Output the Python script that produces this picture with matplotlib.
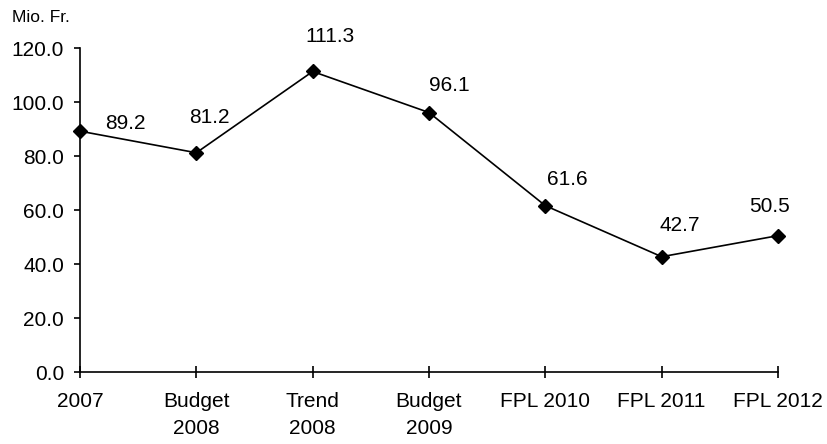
import matplotlib.pyplot as plt

# Series values (Mio. Fr.)
categories = ["2007", "Budget\n2008", "Trend\n2008", "Budget\n2009",
              "FPL 2010", "FPL 2011", "FPL 2012"]
values = [89.2, 81.2, 111.3, 96.1, 61.6, 42.7, 50.5]
# where each value label sits relative to its point (pixels)
label_offsets = [(45, 8), (13, 35), (17, 35), (20, 27), (22, 26), (18, 31), (-8, 29)]

plt.rcParams['font.family'] = ['Liberation Sans', 'DejaVu Sans']

W, H = 828, 444
fig = plt.figure(figsize=(W / 100, H / 100), dpi=100)
ax = fig.add_axes([80 / W, (H - 372) / H, (778 - 80) / W, (372 - 48) / H])

x = list(range(len(values)))
ax.plot(x, values, color='black', lw=1.2, marker='D', markersize=7.5,
        markerfacecolor='black', markeredgecolor='black', clip_on=False, zorder=3)

for xi, v, (dx, dy) in zip(x, values, label_offsets):
    ax.annotate(f"{v:.1f}", (xi, v), xytext=(dx, dy), textcoords='offset pixels',
                ha='center', va='center', fontsize=15)

ax.set_xlim(0, len(values) - 1)
ax.set_ylim(0, 120)
ax.set_yticks(range(0, 121, 20))
ax.set_yticklabels([f"{t:.1f}" for t in range(0, 121, 20)])
ax.set_xticks(x)
ax.set_xticklabels(categories, linespacing=1.55)

for s in ['top', 'right']:
    ax.spines[s].set_visible(False)
for s in ['left', 'bottom']:
    ax.spines[s].set_linewidth(1.2)

ax.tick_params(axis='x', direction='inout', length=9, width=1.2, pad=10, labelsize=15)
ax.tick_params(axis='y', direction='out', length=4.5, width=1.2, pad=7, labelsize=15)

fig.text(12 / W, 1 - 10 / H, "Mio. Fr.", fontsize=12.5, ha='left', va='top')

fig.savefig("out.png", dpi=100)
